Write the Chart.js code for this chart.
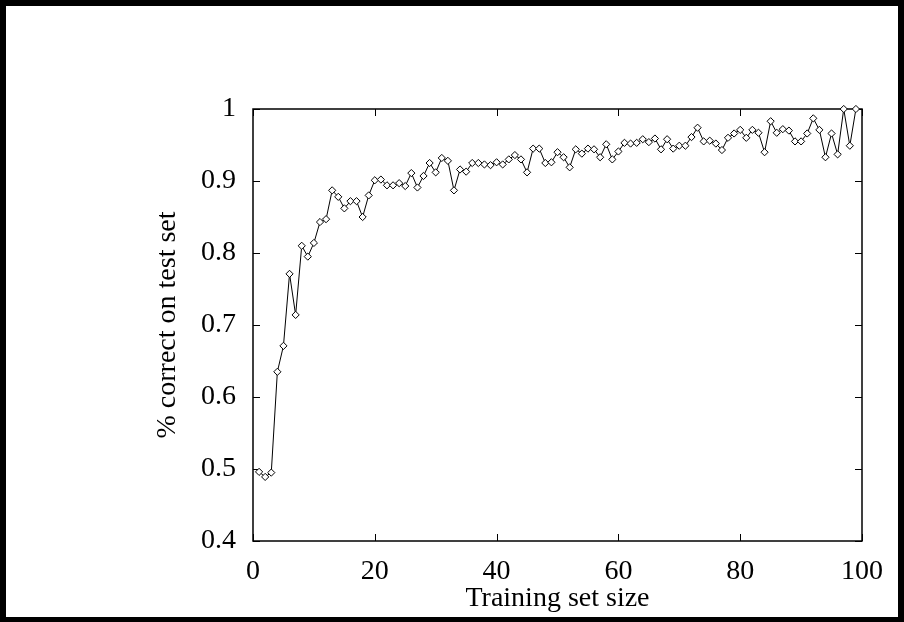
<!DOCTYPE html>
<html lang="en">
<head>
    <meta charset="UTF-8">
    <title>Training set size vs accuracy</title>
    <script src="https://cdnjs.cloudflare.com/ajax/libs/Chart.js/4.4.1/chart.umd.min.js"></script>
    <style>
        * {
            margin: 0;
            padding: 0;
            box-sizing: border-box;
        }

        body {
            background-color: #fff;
            width: 904px;
            height: 622px;
            overflow: hidden;
        }

        #chart {
            display: block;
        }
    </style>
</head>
<body>
    <canvas id="chart" width="904" height="622"></canvas>

    <script>
        // training set sizes and % correct
        const trainingSizes = [
            1, 2, 3, 4, 5, 6, 7, 8, 9, 10,
            11, 12, 13, 14, 15, 16, 17, 18, 19, 20,
            21, 22, 23, 24, 25, 26, 27, 28, 29, 30,
            31, 32, 33, 34, 35, 36, 37, 38, 39, 40,
            41, 42, 43, 44, 45, 46, 47, 48, 49, 50,
            51, 52, 53, 54, 55, 56, 57, 58, 59, 60,
            61, 62, 63, 64, 65, 66, 67, 68, 69, 70,
            71, 72, 73, 74, 75, 76, 77, 78, 79, 80,
            81, 82, 83, 84, 85, 86, 87, 88, 89, 90,
            91, 92, 93, 94, 95, 96, 97, 98, 99
        ];
        const percentCorrect = [
            0.496, 0.489, 0.495, 0.635, 0.671, 0.771, 0.714, 0.810, 0.795, 0.814,
            0.843, 0.847, 0.887, 0.878, 0.862, 0.872, 0.872, 0.850, 0.880, 0.901,
            0.902, 0.894, 0.894, 0.897, 0.893, 0.911, 0.891, 0.907, 0.925, 0.912,
            0.932, 0.928, 0.887, 0.916, 0.913, 0.925, 0.925, 0.923, 0.922, 0.926,
            0.923, 0.930, 0.936, 0.930, 0.912, 0.945, 0.945, 0.925, 0.926, 0.940,
            0.933, 0.919, 0.944, 0.938, 0.945, 0.944, 0.933, 0.951, 0.930, 0.941,
            0.953, 0.952, 0.953, 0.958, 0.954, 0.959, 0.944, 0.958, 0.945, 0.949,
            0.949, 0.961, 0.974, 0.955, 0.956, 0.952, 0.943, 0.960, 0.966, 0.971,
            0.960, 0.971, 0.967, 0.940, 0.983, 0.967, 0.972, 0.970, 0.955, 0.955,
            0.966, 0.987, 0.971, 0.933, 0.966, 0.937, 1.000, 0.949, 1.000
        ];
        const xTickValues = [0, 20, 40, 60, 80, 100];
        const yTickValues = [0.4, 0.5, 0.6, 0.7, 0.8, 0.9, 1];

        const FONT = 'Liberation Serif, Times New Roman, serif';
        Chart.defaults.font.family = FONT;
        Chart.defaults.color = '#000';

        // frame, inward ticks on all four sides, and the page border
        const framePlugin = {
            id: 'frame',
            beforeDatasetsDraw(chart) {
                const { ctx, chartArea: a, scales } = chart;
                const tick = 7;
                ctx.save();
                ctx.strokeStyle = '#000';
                ctx.lineWidth = 1;
                ctx.beginPath();
                xTickValues.forEach(v => {
                    const x = Math.round(scales.x.getPixelForValue(v)) + 0.5;
                    ctx.moveTo(x, a.bottom);
                    ctx.lineTo(x, a.bottom - tick);
                    ctx.moveTo(x, a.top);
                    ctx.lineTo(x, a.top + tick);
                });
                yTickValues.forEach(v => {
                    const y = Math.round(scales.y.getPixelForValue(v)) + 0.5;
                    ctx.moveTo(a.left, y);
                    ctx.lineTo(a.left + tick, y);
                    ctx.moveTo(a.right, y);
                    ctx.lineTo(a.right - tick, y);
                });
                ctx.stroke();
                ctx.lineWidth = 1.5;
                ctx.strokeRect(a.left, a.top, a.right - a.left, a.bottom - a.top);
                ctx.restore();
            },
            afterDraw(chart) {
                const { ctx, width, height } = chart;
                ctx.save();
                ctx.fillStyle = '#000';
                ctx.fillRect(0, 0, width, 6);
                ctx.fillRect(0, 0, 6, height);
                ctx.fillRect(width - 6, 0, 6, height);
                ctx.fillRect(0, height - 5, width, 5);
                ctx.restore();
            }
        };

        new Chart(document.getElementById('chart'), {
            type: 'line',
            data: {
                datasets: [{
                    data: trainingSizes.map((x, i) => ({ x: x, y: percentCorrect[i] })),
                    borderColor: '#000',
                    borderWidth: 1,
                    tension: 0,
                    clip: 8,
                    pointStyle: 'rectRot',
                    pointRadius: 3.6,
                    pointBackgroundColor: '#fff',
                    pointBorderColor: '#000',
                    pointBorderWidth: 1
                }]
            },
            options: {
                responsive: false,
                animation: false,
                layout: {
                    padding: { top: 109, right: 42, bottom: 6, left: 150 }
                },
                plugins: {
                    legend: { display: false },
                    tooltip: { enabled: false }
                },
                scales: {
                    x: {
                        type: 'linear',
                        min: 0,
                        max: 100,
                        afterFit: s => { s.height = 75; },
                        afterBuildTicks: s => { s.ticks = xTickValues.map(v => ({ value: v })); },
                        grid: { display: false, drawTicks: false },
                        border: { display: false },
                        ticks: {
                            padding: 14,
                            maxRotation: 0,
                            font: { size: 28 }
                        },
                        title: {
                            display: true,
                            text: 'Training set size',
                            font: { size: 28 },
                            padding: { top: 0, bottom: 1 }
                        }
                    },
                    y: {
                        min: 0.4,
                        max: 1,
                        afterFit: s => { s.width = 103; },
                        afterBuildTicks: s => { s.ticks = yTickValues.map(v => ({ value: v })); },
                        grid: { display: false, drawTicks: false },
                        border: { display: false },
                        ticks: {
                            padding: 17,
                            font: { size: 28 },
                            callback: v => String(Number(v.toFixed(2)))
                        },
                        title: {
                            display: true,
                            text: '% correct on test set',
                            font: { size: 28 },
                            padding: { top: 1, bottom: 0 }
                        }
                    }
                }
            },
            plugins: [framePlugin]
        });
    </script>
</body>
</html>
